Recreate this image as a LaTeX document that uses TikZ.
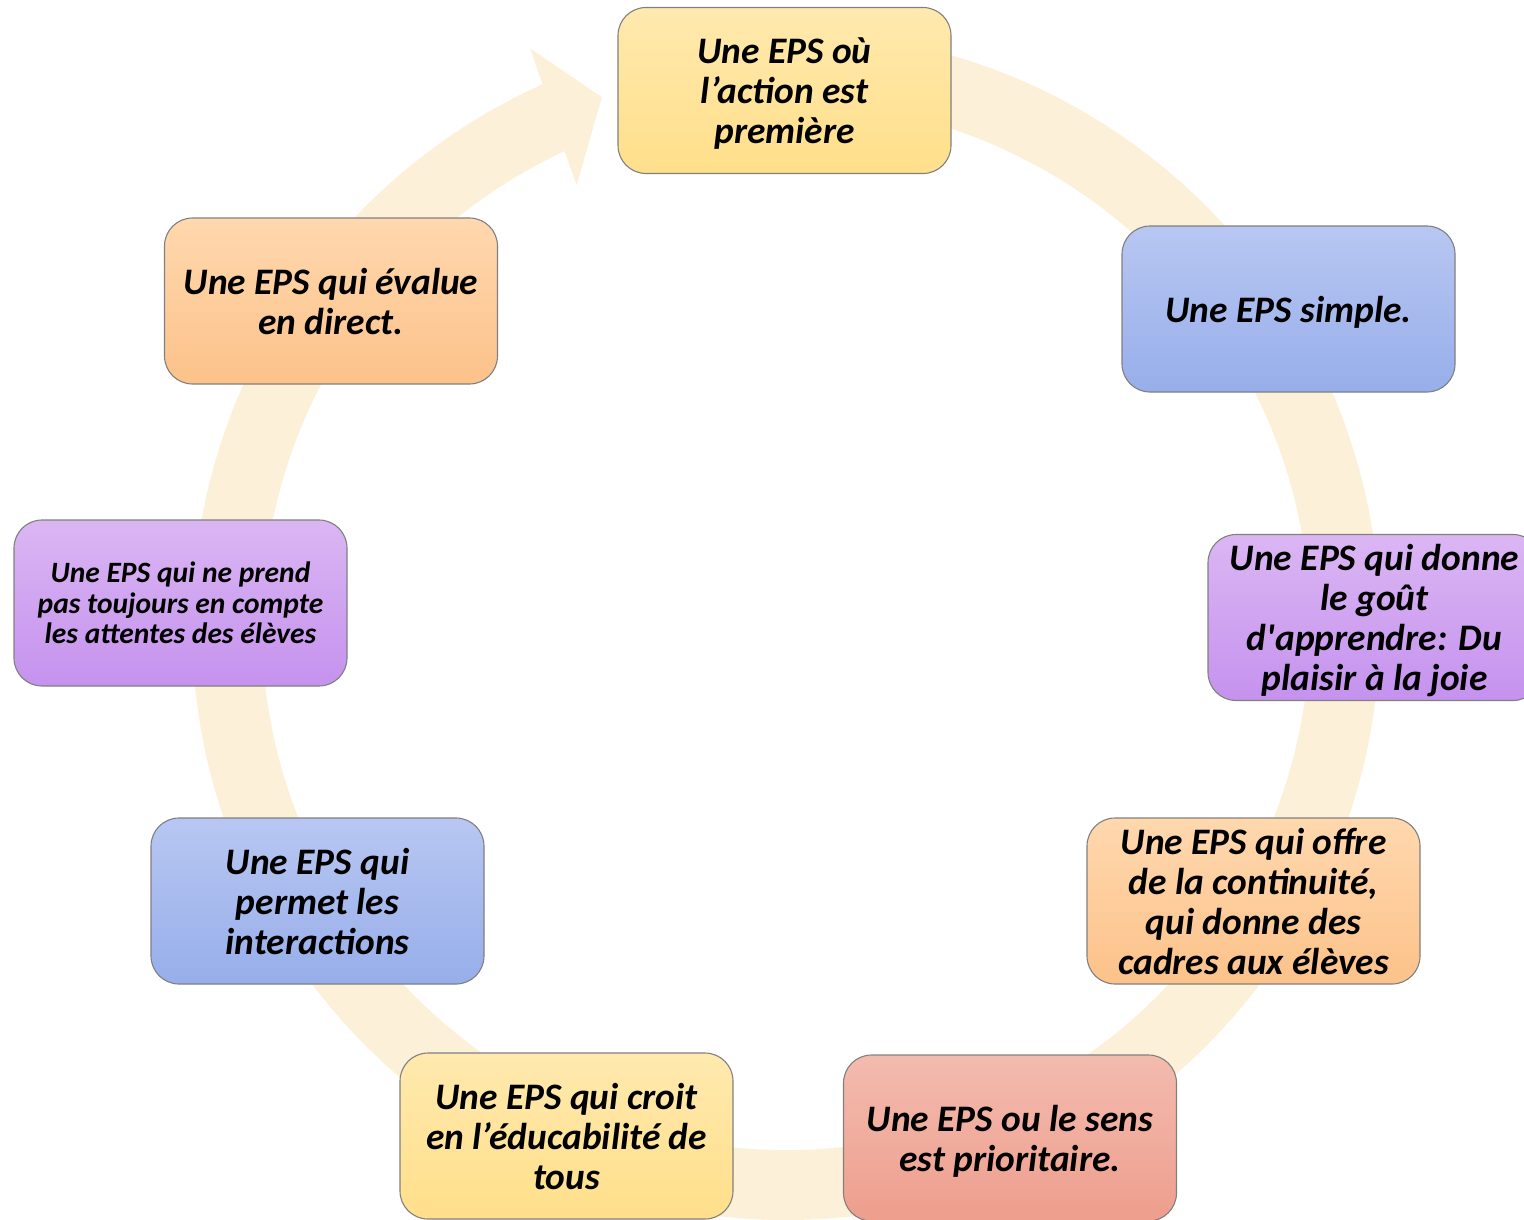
\documentclass[tikz,border=0pt]{standalone}
\usepackage{fontspec}
\setmainfont{Carlito}
\usetikzlibrary{calc}
\definecolor{ringcol}{HTML}{FDF0D8}
\definecolor{yelT}{HTML}{FFE9AE}\definecolor{yelB}{HTML}{FFDF8A}
\definecolor{bluT}{HTML}{B8C7F2}\definecolor{bluB}{HTML}{97AEEA}
\definecolor{purT}{HTML}{DBB6F3}\definecolor{purB}{HTML}{C592EE}
\definecolor{oraT}{HTML}{FFD8AE}\definecolor{oraB}{HTML}{FCC28A}
\definecolor{redT}{HTML}{F3BBAF}\definecolor{redB}{HTML}{EE9E8D}
\newcommand{\topst}{\rule{0pt}{35pt}}
\newcommand{\botst}{\rule[-9pt]{0pt}{9pt}}
\begin{document}
\begin{tikzpicture}[x=1pt,y=-1pt,
  box/.style={rounded corners=28pt, draw=black!50, line width=1.1pt,
    minimum width=333pt, minimum height=166pt, align=center, inner sep=0pt,
    font=\fontsize{37.4}{40}\selectfont\bfseries\itshape},
  smallbox/.style={box, font=\fontsize{29.5}{30.5}\selectfont\bfseries\itshape},
  yel/.style={top color=yelT, bottom color=yelB},
  blu/.style={top color=bluT, bottom color=bluB},
  pur/.style={top color=purT, bottom color=purB},
  ora/.style={top color=oraT, bottom color=oraB},
  red/.style={top color=redT, bottom color=redB}]
\useasboundingbox (0,0) rectangle (1524,1219);
\coordinate (c) at (786,626);
% ring arrow
\fill[ringcol] ($(c)+(-90:594)$) arc[start angle=-90, end angle=245.8, radius=594]
  -- ($(c)+(246.1:632)$) -- ($(c)+(250.8:560)$) -- ($(c)+(244.6:488)$)
  -- ($(c)+(245.0:524)$) arc[start angle=245.0, end angle=-90, radius=524] -- cycle;
% boxes
\node[box,yel] (n1) at (784.5,90.5) {\topst Une EPS où\\l’action est\\première\botst};
\node[box,blu] (n2) at (1288.5,309) {\topst Une EPS simple.\botst};
\node[box,pur] (n3) at (1374.5,617.5) {\topst Une EPS qui donne\\le goût\\d\textquotesingle apprendre: Du\\plaisir à la joie\botst};
\node[box,ora] (n4) at (1253.5,901) {\topst Une EPS qui offre\\de la continuité,\\qui donne des\\cadres aux élèves\botst};
\node[box,red] (n5) at (1010,1138) {\topst Une EPS ou le sens\\est prioritaire.\botst};
\node[box,yel] (n6) at (566.5,1136) {\topst Une EPS qui croit\\en l’éducabilité de\\tous\botst};
\node[box,blu] (n7) at (317.5,901) {\topst Une EPS qui\\permet les\\interactions\botst};
\node[smallbox,pur] (n8) at (180.5,603) {Une EPS qui ne prend\\pas toujours en compte\\les attentes des élèves};
\node[box,ora] (n9) at (331,301) {\topst Une EPS qui évalue\\en direct.\botst};
\end{tikzpicture}
\end{document}
